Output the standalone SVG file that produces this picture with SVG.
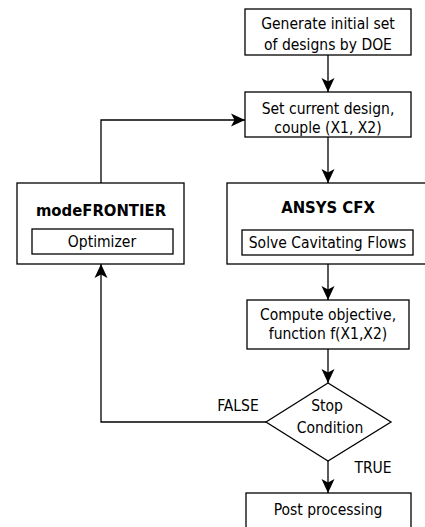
<svg xmlns="http://www.w3.org/2000/svg" width="425" height="527" viewBox="0 0 425 527">
<style>
.box{fill:#fff;stroke:#000;stroke-width:1.3}
.t{font-family:"DejaVu Sans Condensed","DejaVu Sans",Verdana,sans-serif;font-stretch:condensed;font-size:15.5px;fill:#000;text-anchor:middle}
.b{font-weight:bold;font-size:16.5px}
.c{fill:none;stroke:#000;stroke-width:1.3}
</style>
<defs>
<marker id="ah" markerWidth="16" markerHeight="14" refX="15" refY="7" orient="auto" markerUnits="userSpaceOnUse">
<path d="M15,7 L1,0.5 L4.5,7 L1,13.5 Z" fill="#000"/>
</marker>
</defs>
<g id="connectors">
<line class="c" x1="328" y1="55" x2="328" y2="92" marker-end="url(#ah)"/>
<line class="c" x1="328" y1="137" x2="328" y2="183" marker-end="url(#ah)"/>
<line class="c" x1="328" y1="264" x2="328" y2="300" marker-end="url(#ah)"/>
<line class="c" x1="328" y1="349" x2="328" y2="383" marker-end="url(#ah)"/>
<line class="c" x1="328" y1="461" x2="328" y2="493" marker-end="url(#ah)"/>
<polyline class="c" points="266,422 101,422 101,264" marker-end="url(#ah)"/>
<polyline class="c" points="101,183 101,120 245,120" marker-end="url(#ah)"/>
<text class="t" x="238" y="411">FALSE</text>
<text class="t" x="373" y="473">TRUE</text>
</g>
<g id="doe">
<rect class="box" x="245" y="9" width="166" height="46"/>
<text class="t" x="328" y="29">Generate initial set</text>
<text class="t" x="328" y="50">of designs by DOE</text>
</g>
<g id="setdesign">
<rect class="box" x="245" y="92" width="166" height="45"/>
<text class="t" x="328" y="114">Set current design,</text>
<text class="t" x="328" y="133">couple (X1, X2)</text>
</g>
<g id="ansys">
<rect class="box" x="227" y="183" width="210" height="81"/>
<text class="t b" x="328" y="213">ANSYS CFX</text>
<rect class="box" x="242" y="230" width="171" height="25"/>
<text class="t" x="327.5" y="248">Solve Cavitating Flows</text>
</g>
<g id="modefrontier">
<rect class="box" x="17" y="183" width="167" height="81"/>
<text class="t b" x="101" y="216">modeFRONTIER</text>
<rect class="box" x="32" y="229" width="141" height="25"/>
<text class="t" x="102" y="247">Optimizer</text>
</g>
<g id="compute">
<rect class="box" x="247" y="300" width="162" height="49"/>
<text class="t" x="328" y="320">Compute objective,</text>
<text class="t" x="328" y="339">function f(X1,X2)</text>
</g>
<g id="stop">
<polygon class="box" points="266,422 328,383 391,422 328,461"/>
<text class="t" x="327" y="411">Stop</text>
<text class="t" x="330" y="433">Condition</text>
</g>
<g id="post">
<rect class="box" x="246" y="493" width="165" height="40"/>
<text class="t" x="328" y="515">Post processing</text>
</g>
</svg>
